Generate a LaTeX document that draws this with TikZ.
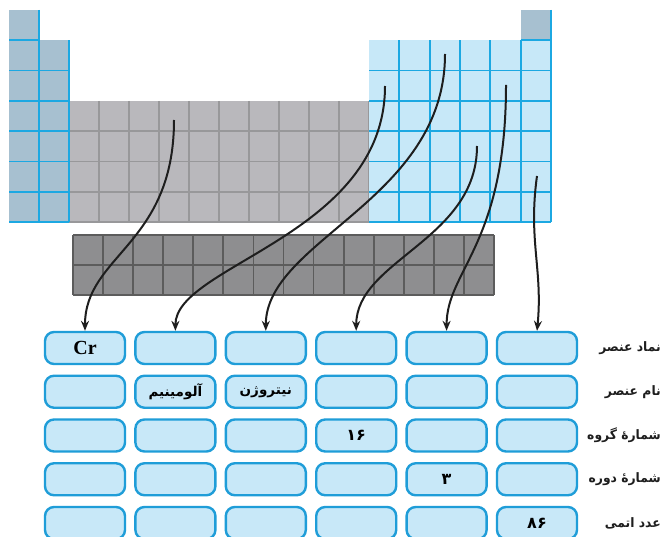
\documentclass[tikz,border=0pt]{standalone}
\usepackage{fontspec}
\setmainfont{Liberation Serif}
\newfontfamily\fa[Script=Arabic]{DejaVu Sans}
\newfontfamily\falab[Script=Arabic,FakeStretch=0.95]{DejaVu Sans}
\TeXXeTstate=1
\usetikzlibrary{arrows.meta}
\definecolor{sfill}{HTML}{A7C0D0}
\definecolor{pfill}{HTML}{C7E8F8}
\definecolor{cyanl}{HTML}{1CA8E2}
\definecolor{dfill}{HTML}{B9B8BC}
\definecolor{dline}{HTML}{98989A}
\definecolor{ffill}{HTML}{8E8E90}
\definecolor{fline}{HTML}{5C5C5C}
\definecolor{boxfill}{HTML}{C8E8F8}
\definecolor{boxline}{HTML}{1F9DD8}
\definecolor{ink}{HTML}{1E1E1E}
\begin{document}
\begin{tikzpicture}[x=1pt,y=-1pt,
  cyanrule/.style={draw=cyanl,line width=1.8pt},
  drule/.style={draw=dline,line width=1.8pt},
  frule/.style={draw=fline,line width=1.8pt},
  cellbox/.style={draw=boxline,fill=boxfill,line width=2.4pt,rounded corners=9pt,
    minimum width=80pt,minimum height=32pt,inner sep=0pt,text=ink},
  latintext/.style={font=\bfseries\fontsize{20}{20}\selectfont},
  fatext/.style={font=\fa\bfseries\fontsize{13.5}{15}\selectfont},
  digtext/.style={font=\fa\bfseries\fontsize{16}{16}\selectfont},
  rowlabel/.style={anchor=east,inner sep=0pt,text=ink,font=\falab\bfseries\fontsize{13}{15}\selectfont},
  link/.style={draw=ink,line width=2pt,-{Stealth[length=10pt,width=8pt]}},
]
\useasboundingbox (0,0) rectangle (663,537);
\fill[white] (0,0) rectangle (663,537);
\clip (0,0) rectangle (663,537);

% d-block
\fill[dfill] (69,100.9) rectangle (369,222.1);
\foreach \k [evaluate=\k as \xx using 69+30*\k] in {1,...,10}
  \draw[drule] (\xx,100.9) -- (\xx,222.1);
\foreach \k [evaluate=\k as \yy using 10+30.3*\k] in {4,...,7}
  \draw[drule] (69,\yy) -- (369,\yy);

% p-block
\fill[pfill] (369,40.3) rectangle (551,222.1);
\fill[sfill] (520.7,10) rectangle (551,40.3);
\foreach \k [evaluate=\k as \xx using 369+30.33*\k] in {1,...,6}
  \draw[cyanrule] (\xx,40.3) -- (\xx,222.1);
\foreach \k [evaluate=\k as \yy using 10+30.3*\k] in {2,...,7}
  \draw[cyanrule] (369,\yy) -- (551,\yy);
\draw[cyanrule] (520.7,40.3) -- (551,40.3);
\draw[cyanrule] (551,10) -- (551,40.3);

% s-block
\fill[sfill] (9,10) rectangle (39,222.1);
\fill[sfill] (39,40.3) rectangle (69,222.1);
\draw[cyanrule] (39,10) -- (39,222.1);
\draw[cyanrule] (69,40.3) -- (69,222.1);
\draw[cyanrule] (9,40.3) -- (39,40.3);
\foreach \k [evaluate=\k as \yy using 10+30.3*\k] in {2,...,7}
  \draw[cyanrule] (9,\yy) -- (69,\yy);

% f-block
\fill[ffill] (73,235) rectangle (494,295);
\foreach \k [evaluate=\k as \xx using 73+30.07*\k] in {0,...,14}
  \draw[frule] (\xx,235) -- (\xx,295);
\foreach \yy in {235,265,295}
  \draw[frule] (73,\yy) -- (494,\yy);

% answer boxes
\foreach \c in {1,...,6}
  \foreach \r in {1,...,5}
    \node[cellbox] (b\c\r) at ({85+90.4*(\c-1)},{348+43.75*(\r-1)}) {};

\node[latintext] (tcr) at (b11) {Cr};
\node[fatext] (tal) at (b22) {\beginR آلومینیم\endR};
\node[fatext] (tni) at (b32) {\beginR نیتروژن\endR};
\node[digtext] (t16) at (b43) {۱۶};
\node[digtext] (t3) at (b54) {۳};
\node[digtext] (t86) at (b65) {۸۶};

% row labels
\node[rowlabel] (l1) at (661,348) {\beginR نماد عنصر\endR};
\node[rowlabel] (l2) at (661,391.75) {\beginR نام عنصر\endR};
\node[rowlabel] (l3) at (661,435.5) {\beginR شمارهٔ گروه\endR};
\node[rowlabel] (l4) at (661,479.25) {\beginR شمارهٔ دوره\endR};
\node[rowlabel] (l5) at (661,523) {\beginR عدد اتمی\endR};

% arrows
\coordinate (s1) at (174,120);
\coordinate (s2) at (385,86);
\coordinate (s3) at (445,54);
\coordinate (s4) at (477,146);
\coordinate (s5) at (506,85);
\coordinate (s6) at (537,176);
\draw[link] (s1) .. controls (174,245) and (85,255) .. (b11.north);
\draw[link] (s2) .. controls (385,235) and (175.4,265) .. (b21.north);
\draw[link] (s3) .. controls (445,200) and (265.8,240) .. (b31.north);
\draw[link] (s4) .. controls (477,240) and (356.2,260) .. (b41.north);
\draw[link] (s5) .. controls (506,245) and (446.6,270) .. (b51.north);
\draw[link] (s6) .. controls (528,240) and (543,270) .. (b61.north);
\end{tikzpicture}
\end{document}
